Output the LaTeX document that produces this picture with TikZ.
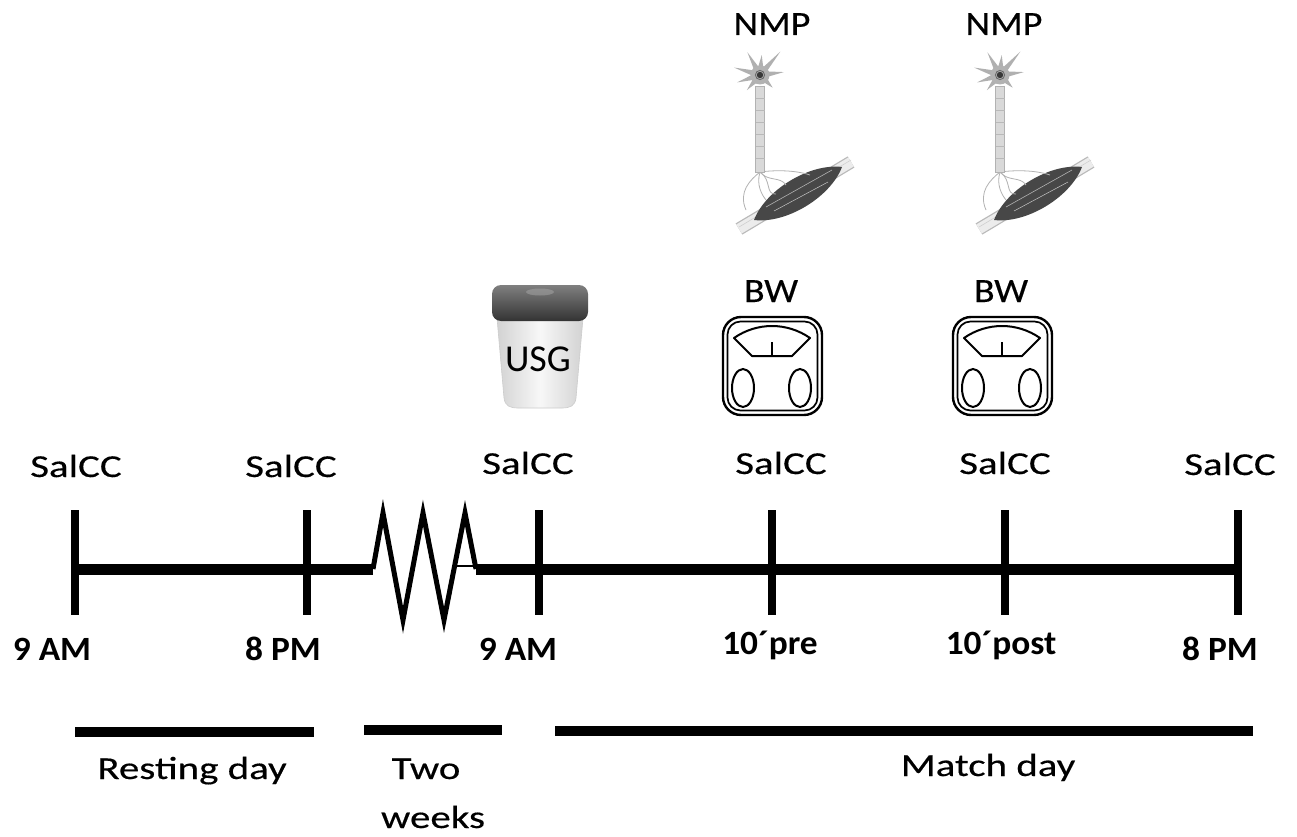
\documentclass[tikz,border=0pt]{standalone}
\usepackage{fontspec}
\setmainfont{Carlito}
\newfontfamily\labfont{Carlito}[FakeStretch=1.28, FakeBold=0.35]
\newfontfamily\iconfont{Carlito}[FakeStretch=1.12, FakeBold=0.35]
\newfontfamily\timefont{Carlito}[FakeStretch=1.04]
\usetikzlibrary{calc}

% weighing scale icon, centred at (#1,366)
\newcommand\scaleicon[1]{%
  \begin{scope}[shift={(#1,366)}]
    \draw[line width=2.4pt, rounded corners=18pt] (-49,-49) rectangle (50,49);
    \draw[line width=1.7pt, rounded corners=13pt] (-44.5,-44.5) rectangle (45.5,44.5);
    \draw[line width=2pt, line join=round]
      (-38,-28) .. controls (-15,-44) and (15,-44) .. (38,-28)
      -- (20,-10) -- (-20,-10) -- cycle;
    \draw[line width=1.7pt] (0,-24) -- (0,-10);
    \draw[line width=2pt] (-29,22) ellipse [x radius=11, y radius=19];
    \draw[line width=2pt] (28,22) ellipse [x radius=11, y radius=19];
  \end{scope}}

% motor neuron with its muscle fibre, axon at x=#1
\newcommand\neuronicon[1]{%
  \begin{scope}[shift={(#1,0)}]
    % muscle fibre
    \draw[line width=13pt, gray!55] (-21,229) -- (91,162);
    \draw[line width=10.5pt, gray!15] (-21,229) -- (91,162);
    \draw[gray!40, line width=0.5pt] (-21,227) -- (91,160);
    % muscle belly
    \fill[black!72] (-6,220) .. controls (5.7,189.6) and (49.7,163.1) .. (82,167)
      .. controls (70.3,197.4) and (26.3,223.9) .. cycle;
    \draw[gray!60, line width=0.6pt] (6,207) -- (72,170);
    \draw[gray!45, line width=0.5pt] (14,211) -- (68,182);
    % nerve terminals
    \begin{scope}[gray!60, line width=0.8pt]
      \draw (0,172) .. controls (-10,180) and (-22,192) .. (-14,210);
      \draw (0,172) .. controls (-4,185) and (2,195) .. (6,200);
      \draw (0,172) .. controls (8,182) and (20,176) .. (26,185);
      \draw (0,172) .. controls (15,170) and (35,170) .. (50,175);
      \draw (0,172) .. controls (12,180) and (5,195) .. (16,194);
    \end{scope}
    % axon
    \draw[fill=gray!30, draw=gray!60, line width=0.9pt] (-4.5,86) rectangle (4.5,172);
    \foreach \y in {98,110,...,166}
      \draw[gray!55, line width=0.5pt] (-4.5,\y) -- (4.5,\y);
    % dendrites, tapering away from the cell body
    \foreach \a/\l in {-119/26,-49/31,-164/27,162/24,-7/24,131/20,45/18,-85/20}
      \fill[gray!62] ($(0,75)+(\a+24:7)$) -- ($(0,75)+(\a:\l)$) -- ($(0,75)+(\a-24:7)$) -- cycle;
    % soma and nucleus
    \fill[gray!60] (0,75) circle (9.5);
    \fill[black!78] (0,75) circle (3.2);
    \draw[gray!80!black, line width=0.8pt] (0,75) circle (4.6);
  \end{scope}}

\begin{document}
\begin{tikzpicture}[x=1pt, y=-1pt,
  lab/.style={anchor=base, inner sep=0pt, font=\labfont\fontsize{32}{38}\selectfont},
  timelab/.style={anchor=base, inner sep=0pt, font=\timefont\bfseries\fontsize{34}{40}\selectfont},
  iconlab/.style={anchor=base, inner sep=0pt, font=\iconfont\fontsize{34}{40}\selectfont},
  axisline/.style={line width=11pt},
  tickmark/.style={line width=8pt},
  period/.style={line width=10pt},
  zigzag/.style={line width=5pt, line join=miter, miter limit=20},
]
\useasboundingbox (0,0) rectangle (1297,837);
\fill[white] (0,0) rectangle (1297,837);

% time axis
\foreach \n/\x in {1/75,2/307,3/539,4/772,5/1005,6/1238}
  \coordinate (t\n) at (\x,569);
\coordinate (zs) at (373,569);
\coordinate (ze) at (476,569);
\coordinate (zt) at (457,566);
\draw[axisline] (t1) -- (zs);
\draw[axisline] (ze) -- (t6);
\foreach \n in {1,...,6}
  \draw[tickmark] ($(t\n)+(0,-59)$) -- ($(t\n)+(0,46)$);

% break in the axis
\draw[zigzag] (zs) -- (383,513) -- (403,620) -- (423,513) -- (444,620) -- (465,513) -- (ze);
\draw[line width=1.2pt] (zt) -- (ze |- zt);

% sampling points
\node[lab] (s1) at (76,477) {SalCC};
\node[lab] (s2) at (291,477) {SalCC};
\node[lab] (s3) at (528,474) {SalCC};
\node[lab] (s4) at (781,474) {SalCC};
\node[lab] (s5) at (1005,474) {SalCC};
\node[lab] (s6) at (1230,475) {SalCC};

% times
\node[timelab] (h1) at (52,660) {9 AM};
\node[timelab] (h2) at (283,660) {8 PM};
\node[timelab] (h3) at (518,660) {9 AM};
\node[timelab] (h4) at (770,654) {10´pre};
\node[timelab] (h5) at (1001,654) {10´post};
\node[timelab] (h6) at (1220,660) {8 PM};

% periods
\draw[period] (75,732) -- (314,732);
\draw[period] (364,730) -- (502,730);
\draw[period] (555,731) -- (1253,731);
\node[lab] (rest) at (192,779) {Resting day};
\node[lab] (two) at (426,779) {Two};
\node[lab] (weeks) at (433,828) {weeks};
\node[lab] (match) at (988,776) {Match day};

% urine cup
\begin{scope}[shift={(540,0)}]
  \shade[left color=gray!35, right color=gray!35, middle color=gray!6, draw=gray!40, line width=0.6pt]
    (-43,318) -- (-36,398) .. controls (-35,406) and (-30,408) .. (-22,408)
    -- (22,408) .. controls (30,408) and (35,406) .. (36,398) -- (43,318) -- cycle;
  \shade[top color=black!50, bottom color=black!80, rounded corners=9pt]
    (-48,285) rectangle (48,321);
  \fill[gray!75, opacity=0.6] (0,292) ellipse [x radius=14, y radius=3.5];
  \node[anchor=base, inner sep=0pt, font=\fontsize{38}{44}\selectfont] (usg) at (-2,371) {USG};
\end{scope}

% body weight
\scaleicon{772}
\scaleicon{1002}
\node[iconlab] (bw1) at (771,302) {BW};
\node[iconlab] (bw2) at (1001,302) {BW};

% neuromuscular performance
\neuronicon{760}
\neuronicon{1000}
\node[iconlab] (nmp1) at (772,35) {NMP};
\node[iconlab] (nmp2) at (1004,35) {NMP};
\end{tikzpicture}
\end{document}
